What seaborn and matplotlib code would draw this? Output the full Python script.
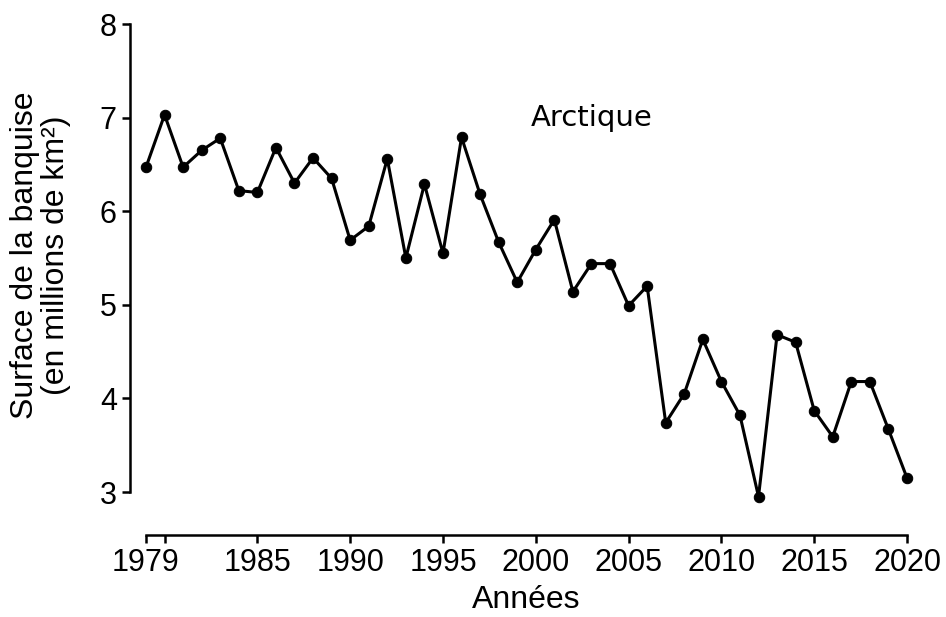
import pandas as pd
import numpy as np
import seaborn as sns
import matplotlib.pyplot as plt

years = list(range(1979, 2021))
surface = [6.47, 7.03, 6.47, 6.65, 6.78, 6.22, 6.20, 6.68, 6.30, 6.57,
           6.35, 5.69, 5.84, 6.56, 5.50, 6.29, 5.55, 6.79, 6.18, 5.67,
           5.24, 5.59, 5.91, 5.14, 5.44, 5.44, 4.99, 5.20, 3.74, 4.05,
           4.63, 4.18, 3.82, 2.95, 4.68, 4.60, 3.87, 3.59, 4.18, 4.18,
           3.67, 3.15]
xticks = [1979, 1980, 1985, 1990, 1995, 2000, 2005, 2010, 2015, 2020]
xlabels = ["1979", "", "1985", "1990", "1995", "2000", "2005", "2010", "2015", "2020"]
yticks = [3, 4, 5, 6, 7, 8]

df = pd.DataFrame({"Années": years, "Surface": surface})

sns.set_style("ticks")
plt.rcParams['font.family'] = ['Liberation Sans', 'DejaVu Sans']

fig = plt.figure(figsize=(9.46, 6.17), dpi=100)
ax = fig.add_axes([146/946, (617-492)/617, (907-146)/946, (492-24)/617])

sns.lineplot(data=df, x="Années", y="Surface", ax=ax, color="black",
             linewidth=2.2, marker="o", markersize=7.5, markeredgecolor="black",
             clip_on=False)

ax.set_xlim(1979, 2020)
ax.set_ylim(3, 8)
ax.set_xticks(xticks)
ax.set_xticklabels(xlabels)
ax.set_yticks(yticks)
ax.tick_params(axis="both", labelsize=22, width=1.8, length=6, color="black",
               labelcolor="black", direction="out")

sns.despine(ax=ax, offset={"left": 11.5, "bottom": 31})
for s in ["left", "bottom"]:
    ax.spines[s].set_linewidth(1.8)
    ax.spines[s].set_color("black")

ax.set_xlabel("Années", fontsize=23, color="black")
ax.set_ylabel("Surface de la banquise\n(en millions de km²)", fontsize=23,
              color="black", linespacing=1.05)
ax.xaxis.set_label_coords(0.5, -0.198)
ax.yaxis.set_label_coords(-0.098, 0.505)

ax.text(2003.0, 7.0, "Arctique", fontsize=21, ha="center", va="center",
        family=["DejaVu Sans"], color="black")

fig.savefig("out.png", dpi=100)
